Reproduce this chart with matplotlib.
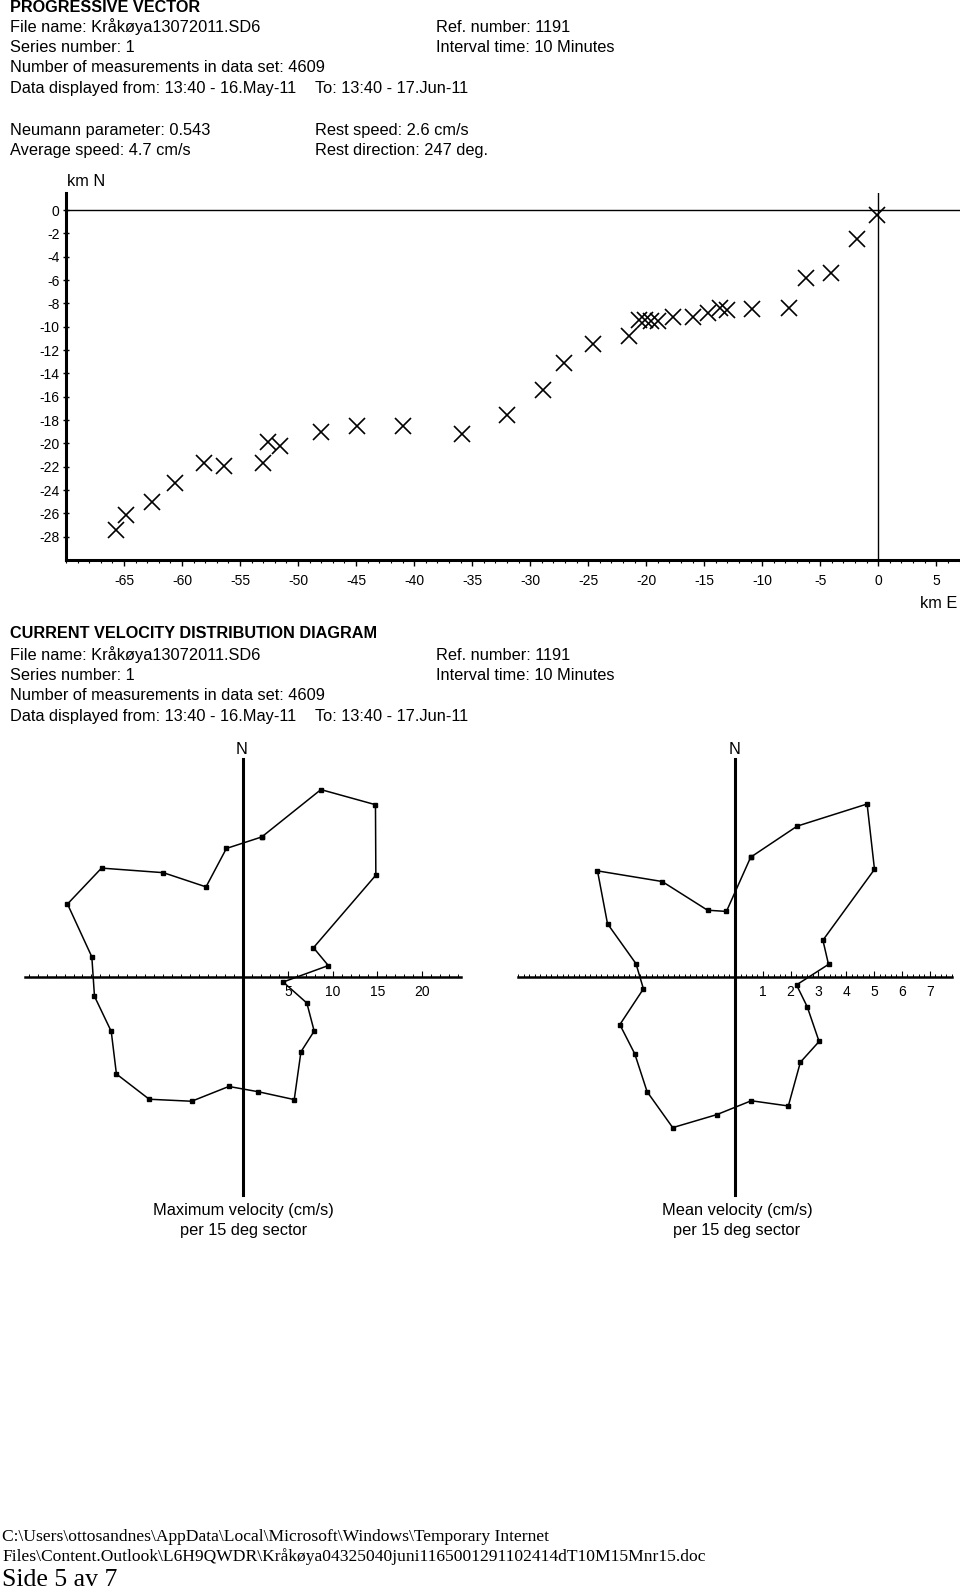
import numpy as np
import matplotlib
matplotlib.use("Agg")
import matplotlib.pyplot as plt
from matplotlib.ticker import MultipleLocator

plt.rcParams['font.family'] = ['Liberation Sans', 'DejaVu Sans']
plt.rcParams['axes.unicode_minus'] = False

# ---------------- data ----------------
# Progressive vector (daily positions, km east / km north)
east_km = [-0.1, -1.8, -4.1, -6.2, -7.7, -10.9, -13.0, -13.6, -14.7, -16.0,
           -17.7, -19.0, -19.6, -20.1, -20.6, -21.5, -24.6, -27.1, -28.9, -32.0,
           -35.9, -41.0, -44.9, -48.0, -51.6, -52.6, -53.0, -56.4, -58.1, -60.6,
           -62.6, -64.8, -65.7]
north_km = [-0.4, -2.5, -5.4, -5.8, -8.4, -8.5, -8.6, -8.4, -8.8, -9.2,
            -9.2, -9.5, -9.5, -9.4, -9.4, -10.8, -11.5, -13.1, -15.4, -17.6,
            -19.2, -18.5, -18.5, -19.0, -20.2, -19.9, -21.7, -21.9, -21.7, -23.4,
            -25.0, -26.1, -27.4]

x_ticks_pv = [-65, -60, -55, -50, -45, -40, -35, -30, -25, -20, -15, -10, -5, 0, 5]
y_ticks_pv = [0, -2, -4, -6, -8, -10, -12, -14, -16, -18, -20, -22, -24, -26, -28]

# Current velocity distribution per 15 deg sector (sector centre, compass deg)
sector_deg = [7.5, 22.5, 37.5, 52.5, 67.5, 82.5, 97.5, 112.5, 127.5, 142.5, 157.5, 172.5,
              187.5, 202.5, 217.5, 232.5, 247.5, 262.5, 277.5, 292.5, 307.5, 322.5, 337.5, 352.5]
max_speed = [15.8, 22.7, 24.3, 18.7, 8.5, 9.6, 4.5, 7.7, 10.0, 10.6, 14.9, 13.0,
             12.4, 15.1, 17.3, 17.9, 16.0, 16.8, 17.1, 21.3, 20.0, 14.7, 10.9, 14.5]
mean_speed = [4.32, 5.84, 7.80, 6.32, 3.42, 3.39, 2.23, 2.81, 3.81, 3.86, 5.01, 4.48,
              4.98, 5.85, 5.19, 4.54, 4.48, 3.32, 3.59, 4.96, 6.23, 4.30, 2.58, 2.36]
max_ticks = [5, 10, 15, 20]
mean_ticks = [1, 2, 3, 4, 5, 6, 7]

# ---------------- figure ----------------
W, H = 960, 1591
fig = plt.figure(figsize=(W / 100, H / 100), dpi=100)
FS = 11.8
BFS = 11.7
TFS = 10


def px_axes(l, t, r, b):
    return fig.add_axes([l / W, 1 - b / H, (r - l) / W, (b - t) / H])


def ftext(x, y, s, **kw):
    kw.setdefault('va', 'center')
    kw.setdefault('ha', 'left')
    kw.setdefault('fontsize', FS)
    fig.text(x / W, 1 - y / H, s, **kw)


# header 1
ftext(10, 7, "PROGRESSIVE VECTOR", fontweight='bold', fontsize=BFS)
ftext(10, 27, "File name: Kråkøya13072011.SD6")
ftext(436, 27, "Ref. number: 1191")
ftext(10, 47, "Series number: 1")
ftext(436, 47, "Interval time: 10 Minutes")
ftext(10, 68, "Number of measurements in data set: 4609")
ftext(10, 88.5, "Data displayed from: 13:40 - 16.May-11")
ftext(315, 88.5, "To: 13:40 - 17.Jun-11")
ftext(10, 130, "Neumann parameter: 0.543")
ftext(315, 130, "Rest speed: 2.6 cm/s")
ftext(10, 150.5, "Average speed: 4.7 cm/s")
ftext(315, 150.5, "Rest direction: 247 deg.")

# progressive vector axes
ax = px_axes(66, 192.5, 959.5, 560)
ax.set_xlim(-70, 7)
ax.set_ylim(-30, 1.5)
ax.plot(east_km, north_km, linestyle='none', marker='x', color='black',
        markersize=11, markeredgewidth=1.2, clip_on=False)
ax.axhline(0, color='black', lw=1.0)
ax.axvline(0, color='black', lw=1.0)
for s in ['top', 'right']:
    ax.spines[s].set_visible(False)
for s in ['left', 'bottom']:
    ax.spines[s].set_linewidth(2.2)
ax.set_xticks(x_ticks_pv)
ax.set_xticklabels([str(v) for v in x_ticks_pv])
ax.set_yticks(y_ticks_pv)
ax.set_yticklabels([str(v) for v in y_ticks_pv])
ax.xaxis.set_minor_locator(MultipleLocator(1))
ax.tick_params(axis='x', which='major', direction='out', length=4, width=1, labelsize=TFS, pad=6)
ax.tick_params(axis='x', which='minor', direction='out', length=2, width=0.8)
ax.tick_params(axis='y', which='major', direction='inout', length=5, width=1, labelsize=TFS, pad=2)
ax.yaxis.set_minor_locator(MultipleLocator(1))
ax.tick_params(axis='y', which='minor', direction='inout', length=2, width=0.8)
ftext(86, 181, "km N", ha='center')
ftext(939, 603, "km E", ha='center')

# header 2
ftext(10, 634, "CURRENT VELOCITY DISTRIBUTION DIAGRAM", fontweight='bold', fontsize=BFS)
ftext(10, 655, "File name: Kråkøya13072011.SD6")
ftext(436, 655, "Ref. number: 1191")
ftext(10, 675, "Series number: 1")
ftext(436, 675, "Interval time: 10 Minutes")
ftext(10, 695.5, "Number of measurements in data set: 4609")
ftext(10, 716.5, "Data displayed from: 13:40 - 16.May-11")
ftext(315, 716.5, "To: 13:40 - 17.Jun-11")


def rose(axr, speeds, lim, ticks, minor):
    th = np.deg2rad(np.array(sector_deg + sector_deg[:1]))
    r = np.array(speeds + speeds[:1])
    u = r * np.sin(th)
    v = r * np.cos(th)
    axr.plot(u, v, color='black', lw=1.1, marker='s', markersize=2.6)
    axr.set_xlim(-lim, lim)
    axr.set_ylim(-lim, lim)
    axr.spines['left'].set_position('zero')
    axr.spines['bottom'].set_position('zero')
    axr.spines['top'].set_visible(False)
    axr.spines['right'].set_visible(False)
    axr.spines['left'].set_linewidth(2.2)
    axr.spines['bottom'].set_linewidth(1.8)
    axr.set_yticks([])
    axr.set_xticks(ticks)
    axr.set_xticklabels([str(t) for t in ticks])
    axr.xaxis.set_minor_locator(MultipleLocator(minor))
    axr.tick_params(axis='x', which='major', direction='in', length=4, width=0.8,
                    labelsize=TFS, pad=6)
    axr.tick_params(axis='x', which='minor', direction='in', length=2.5, width=0.7)
    axr.patch.set_visible(False)


axl = px_axes(25.3, 759, 461.3, 1194.5)
rose(axl, max_speed, 24.4, max_ticks, 1)
axr = px_axes(518, 759, 952, 1194.5)
rose(axr, mean_speed, 7.8, mean_ticks, 0.2)

ftext(241.5, 749, "N", ha='center')
ftext(735, 749, "N", ha='center')
ftext(243.5, 1211, "Maximum velocity (cm/s)", ha='center')
ftext(243.5, 1231, "per 15 deg sector", ha='center')
ftext(737, 1211, "Mean velocity (cm/s)", ha='center')
ftext(737, 1231, "per 15 deg sector", ha='center')

# footer
serif = ['Liberation Serif', 'DejaVu Serif']
ftext(2, 1537, r"C:\Users\ottosandnes\AppData\Local\Microsoft\Windows\Temporary Internet",
      family=serif, fontsize=12.6)
ftext(2, 1556.5, r"Files\Content.Outlook\L6H9QWDR\Kråkøya04325040juni1165001291102414dT10M15Mnr15.doc",
      family=serif, fontsize=12.6)
ftext(2, 1580, "Side 5 av 7", family=serif, fontsize=18.5)

fig.savefig("out.png", dpi=100)
